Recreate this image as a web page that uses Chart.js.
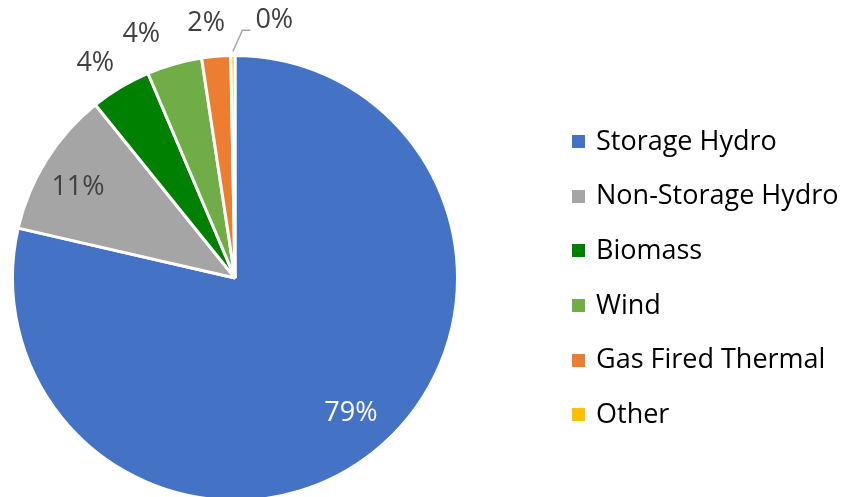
<!DOCTYPE html>
<html>
<head>
<meta charset="utf-8">
<title>Generation mix</title>
<script src="https://cdn.jsdelivr.net/npm/chart.js@4.4.1/dist/chart.umd.min.js"></script>
<style>
    html, body {
        margin: 0;
        padding: 0;
        background: #ffffff;
        overflow: hidden;
    }
    #wrap {
        position: relative;
        width: 849px;
        height: 497px;
        overflow: hidden;
    }
    #chart-mix {
        position: absolute;
        left: 0;
        top: 0;
    }
    #legend-mix {
        position: absolute;
        left: 572px;
        top: 112px;
        margin: 0;
        padding: 0;
        list-style: none;
        font-family: "Open Sans", sans-serif;
        font-size: 27px;
        color: #000000;
    }
    #legend-mix li {
        display: flex;
        align-items: center;
        height: 54.6px;
        white-space: nowrap;
    }
    #legend-mix .kotak {
        width: 13px;
        height: 13px;
        margin-top: 5px;
        margin-right: 11px;
        flex: none;
    }
</style>
</head>
<body>
<div id="wrap">
    <canvas id="chart-mix" width="849" height="502"></canvas>
    <ul id="legend-mix"></ul>
</div>
<script>
    const kategori = [
        "Storage Hydro",
        "Non-Storage Hydro",
        "Biomass",
        "Wind",
        "Gas Fired Thermal",
        "Other",
    ];
    const persen = [78.6, 10.6, 4.4, 4.0, 2.1, 0.3];
    const warna = ["#4472C4", "#A5A5A5", "#008000", "#70AD47", "#ED7D31", "#FFC000"];

    // label placement per slice: f = distance as a fraction of the radius,
    // da = angle nudge in degrees, leader = draw an elbow line to the label
    const posisiLabel = [
        { f: 0.80, da: -2.1, warna: "#ffffff" },
        { f: 0.815, da: -2.0, warna: "#404040" },
        { f: 1.151, da: -2.1, warna: "#404040" },
        { f: 1.173, da: -5.2, warna: "#404040" },
        { f: 1.152, da: -1.6, warna: "#404040" },
        { f: 1.172, da: 9.2, warna: "#404040", leader: true },
    ];

    const labelPersen = {
        id: "labelPersen",
        afterDatasetsDraw(chart) {
            const c = chart.ctx;
            const meta = chart.getDatasetMeta(0);
            c.save();
            c.font = "27px 'Open Sans', sans-serif";
            c.textAlign = "center";
            c.textBaseline = "middle";
            meta.data.forEach((arc, i) => {
                const p = arc.getProps(["x", "y", "startAngle", "endAngle", "outerRadius"], true);
                const pos = posisiLabel[i];
                const mid = (p.startAngle + p.endAngle) / 2;
                const a = mid + (pos.da * Math.PI) / 180;
                const lx = p.x + Math.cos(a) * p.outerRadius * pos.f;
                const ly = p.y + Math.sin(a) * p.outerRadius * pos.f;
                const teks = Math.round(persen[i]) + "%";

                if (pos.leader) {
                    const w = c.measureText(teks).width;
                    const sx = p.x + Math.cos(mid) * (p.outerRadius + 4);
                    const sy = p.y + Math.sin(mid) * (p.outerRadius + 4);
                    const ex = lx - w / 2 - 5;
                    const ey = ly + 10;
                    c.beginPath();
                    c.strokeStyle = "#A6A6A6";
                    c.lineWidth = 1.5;
                    c.moveTo(sx, sy);
                    c.lineTo(ex - 8, ey);
                    c.lineTo(ex, ey);
                    c.stroke();
                }

                c.fillStyle = pos.warna;
                c.fillText(teks, lx, ly);
            });
            c.restore();
        },
    };

    const ctx = document.getElementById("chart-mix");
    const mychart = new Chart(ctx, {
        type: "pie",
        data: {
            labels: kategori,
            datasets: [
                {
                    data: persen,
                    backgroundColor: warna,
                    borderColor: "#ffffff",
                    borderWidth: 3,
                },
            ],
        },
        options: {
            responsive: false,
            animation: false,
            layout: {
                padding: { left: 11, top: 54, right: 390, bottom: 0 },
            },
            plugins: {
                legend: { display: false },
                tooltip: { enabled: false },
            },
        },
        plugins: [labelPersen],
    });

    // legend list built from the chart's own legend items
    const ul = document.getElementById("legend-mix");
    const items = mychart.options.plugins.legend.labels.generateLabels(mychart);
    items.forEach((item) => {
        const li = document.createElement("li");
        const kotak = document.createElement("span");
        kotak.className = "kotak";
        kotak.style.background = item.fillStyle;
        li.appendChild(kotak);
        li.appendChild(document.createTextNode(item.text));
        ul.appendChild(li);
    });
</script>
</body>
</html>
